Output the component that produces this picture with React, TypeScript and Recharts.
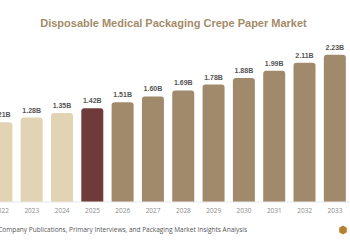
import React from 'react';
import { BarChart, Bar, XAxis, YAxis, Cell, LabelList } from 'recharts';

const years = ['2022', '2023', '2024', '2025', '2026', '2027', '2028', '2029', '2030', '2031', '2032', '2033'];
const marketSize = [1.21, 1.28, 1.35, 1.42, 1.51, 1.6, 1.69, 1.78, 1.88, 1.99, 2.11, 2.23];
const baseYear = '2025';

const data = years.map((year, i) => ({ year, value: marketSize[i] }));

const HISTORIC = '#e2d3b5';
const BASE = '#6f3b3a';
const FORECAST = '#a08a6b';

const barColor = (year: string) => {
  if (year === baseYear) return BASE;
  return Number(year) < Number(baseYear) ? HISTORIC : FORECAST;
};

const App: React.FC = () => {
  return (
    <div
      style={{
        position: 'absolute',
        left: 0,
        top: 0,
        width: 350,
        height: 250,
        overflow: 'hidden',
        background: '#ffffff',
      }}
    >
      <BarChart
        width={380}
        height={250}
        data={data}
        margin={{ top: 37, right: 9.85, bottom: 36, left: 6.35 }}
        style={{ position: 'absolute', left: -20, top: 0 }}
      >
        <XAxis
          dataKey="year"
          height={12}
          tickLine={false}
          tickSize={4}
          tickMargin={2}
          axisLine={{ stroke: '#e8e8e8' }}
          interval={0}
          tick={{ fontSize: 6.5, fill: '#8a8a8a', fontFamily: '"Open Sans", sans-serif' }}
        />
        <YAxis hide domain={[0, 2.5]} />
        <Bar dataKey="value" barSize={22} radius={[3, 3, 0, 0]} isAnimationActive={false}>
          {data.map(d => (
            <Cell key={d.year} fill={barColor(d.year)} />
          ))}
          <LabelList
            dataKey="value"
            position="top"
            offset={5}
            formatter={(v: number) => `${v.toFixed(2)}B`}
            style={{ fontSize: 7, fontWeight: 'bold', fill: '#555555', fontFamily: 'Arial, "Liberation Sans", sans-serif' }}
          />
        </Bar>
      </BarChart>

      <svg width={350} height={250} style={{ position: 'absolute', left: 0, top: 0, pointerEvents: 'none' }}>
        <text
          x={173.5}
          y={27}
          textAnchor="middle"
          fontSize={11}
          fontWeight="bold"
          fill="#a38b69"
          fontFamily='Arial, "Liberation Sans", sans-serif'
        >
          Disposable Medical Packaging Crepe Paper Market
        </text>
        <text
          x={247}
          y={231.5}
          textAnchor="end"
          fontSize={6.5}
          fill="#555555"
          fontFamily='"Open Sans", sans-serif'
        >
          Source: Company Publications, Primary Interviews, and Packaging Market Insights Analysis
        </text>
        {/* small brand mark */}
        <polygon points="343,225.5 346.8,227.7 346.8,232.3 343,234.5 339.2,232.3 339.2,227.7" fill="#b5802f" />
      </svg>
    </div>
  );
};

export default App;
